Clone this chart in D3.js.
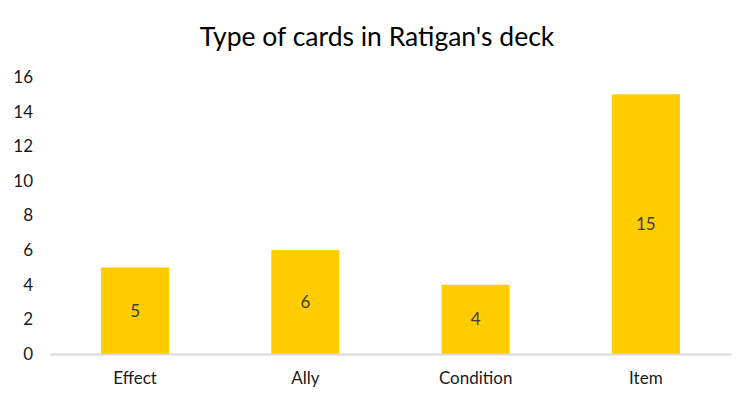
<!DOCTYPE html>
<html>
<head>
<meta charset="utf-8">
<title>Type of cards in Ratigan's deck</title>
<script src="https://cdn.jsdelivr.net/npm/d3@7"></script>
<style>
    body { margin: 0; background: #fff; }
    svg { display: block; font-family: Lato, "Open Sans", sans-serif; }
    .bar { fill: #ffcc00; }
    .tick text { font-family: Lato, sans-serif; font-size: 17px; fill: #1a1a1a; }
    .value-label { font-size: 17px; fill: #404040; }
    .title { font-size: 26.5px; fill: #000; }
</style>
</head>
<body>
<svg width="754" height="403"></svg>
<script>
    // data
    const categories = ["Effect", "Ally", "Condition", "Item"];
    const counts = [5, 6, 4, 15];
    const yTicks = [0, 2, 4, 6, 8, 10, 12, 14, 16];

    const data = categories.map((c, i) => ({ name: c, value: counts[i] }));

    const svg = d3.select("svg");
    const margin = { top: 77, right: 23, bottom: 49, left: 50 };
    const width = +svg.attr("width");
    const height = +svg.attr("height");
    const chartWidth = width - margin.left - margin.right;
    const chartHeight = height - margin.top - margin.bottom;

    const x = d3.scaleBand()
        .domain(categories)
        .range([0, chartWidth])
        .paddingInner(0.6)
        .paddingOuter(0.3);

    const y = d3.scaleLinear()
        .domain([0, 16])
        .range([chartHeight, 0]);

    const g = svg.append("g")
        .attr("transform", `translate(${margin.left},${margin.top})`);

    // title
    svg.append("text")
        .attr("class", "title")
        .attr("x", width / 2)
        .attr("y", 46)
        .attr("text-anchor", "middle")
        .text("Type of cards in Ratigan's deck");

    // y axis (labels only)
    const yAxis = g.append("g")
        .call(d3.axisLeft(y).tickValues(yTicks).tickSize(0).tickPadding(17));
    yAxis.select(".domain").remove();

    // bars
    g.selectAll(".bar")
        .data(data)
        .join("rect")
        .attr("class", "bar")
        .attr("x", d => x(d.name))
        .attr("y", d => y(d.value))
        .attr("width", x.bandwidth())
        .attr("height", d => chartHeight - y(d.value));

    // value labels centred in bars
    g.selectAll(".value-label")
        .data(data)
        .join("text")
        .attr("class", "value-label")
        .attr("x", d => x(d.name) + x.bandwidth() / 2)
        .attr("y", d => (y(d.value) + chartHeight) / 2)
        .attr("dy", "0.35em")
        .attr("text-anchor", "middle")
        .text(d => d.value);

    // x axis
    const xAxis = g.append("g")
        .attr("transform", `translate(0,${chartHeight})`)
        .call(d3.axisBottom(x).tickSize(0).tickPadding(18));
    xAxis.select(".domain")
        .attr("stroke", "#d9d9d9")
        .attr("stroke-width", 2);
</script>
</body>
</html>
